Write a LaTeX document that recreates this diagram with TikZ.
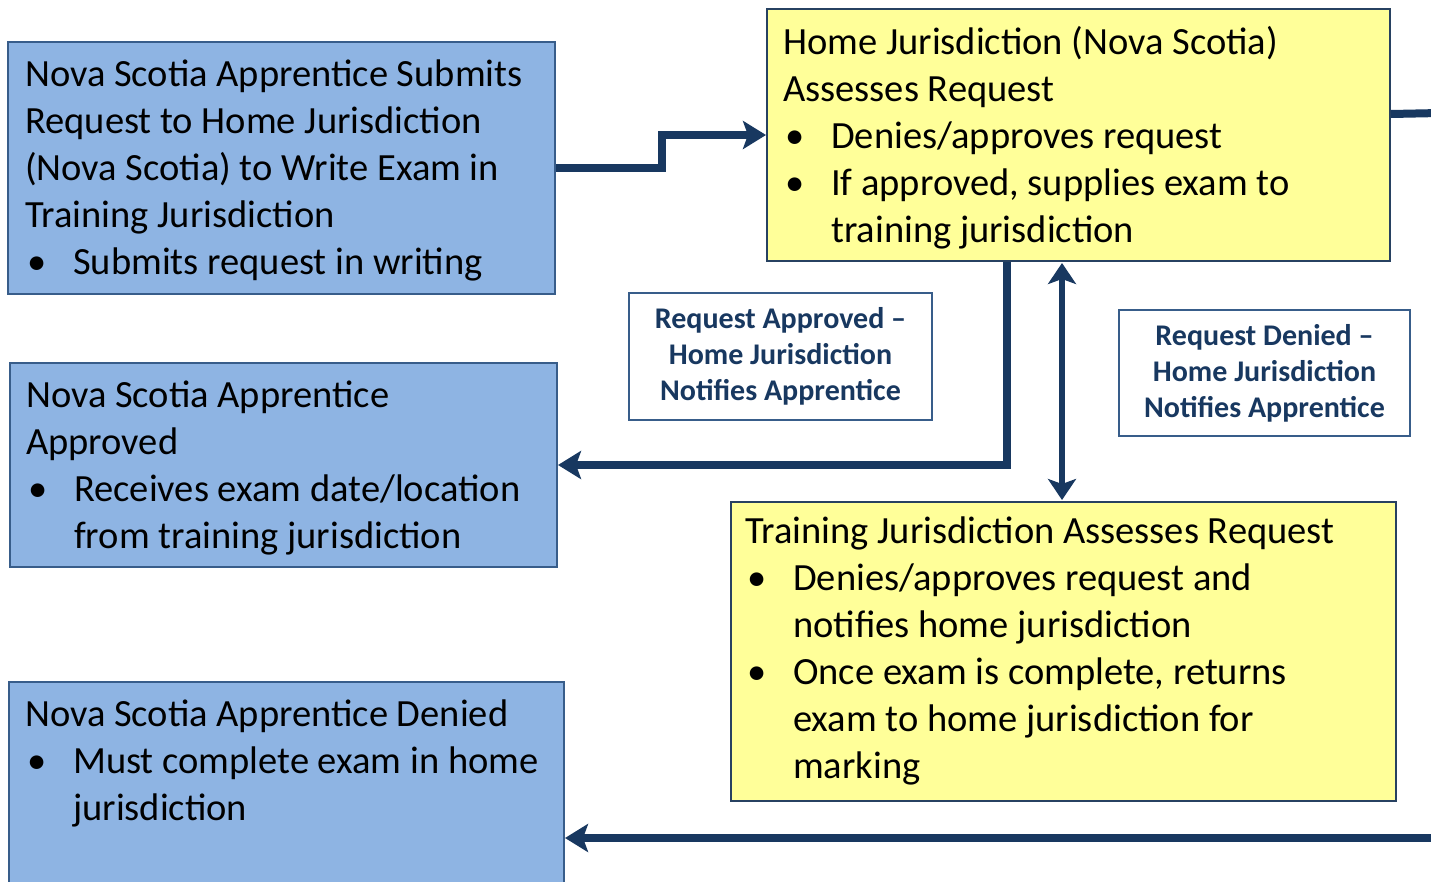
\documentclass[tikz,border=0pt]{standalone}
\usepackage{fontspec}
\setmainfont{Carlito}
\usetikzlibrary{arrows.meta}
\definecolor{navy}{RGB}{24,56,96}
\definecolor{boxblue}{RGB}{142,180,227}
\definecolor{boxyellow}{RGB}{255,255,153}
\definecolor{edge}{RGB}{56,93,138}
\newcommand\bul{\hspace*{2pt}\makebox[46pt][l]{\textbullet}}
\newcommand\ind{\hspace*{48pt}}
\tikzset{
  bluebox/.style={draw=edge, line width=2pt, fill=boxblue, anchor=north west, inner sep=0},
  yellowbox/.style={draw=edge!70!black, line width=2pt, fill=boxyellow, anchor=north west, inner sep=0},
  lblbox/.style={draw=edge, line width=2pt, fill=white, align=center, text=navy,
    font=\bfseries\fontsize{30}{36}\selectfont, inner sep=0},
  boxtext/.style={anchor=base west, align=left, inner sep=0, font=\fontsize{38.5}{47}\selectfont},
  conn/.style={draw=navy, line width=8pt, -{Stealth[length=23pt,width=28pt,inset=5pt]}},
  plainconn/.style={draw=navy, line width=8pt},
  dconn/.style={draw=navy, line width=6pt, {Stealth[length=21pt,width=28pt,inset=5pt]}-{Stealth[length=21pt,width=28pt,inset=5pt]}},
}
\begin{document}
\begin{tikzpicture}[x=1pt,y=-1pt]
\useasboundingbox (0,0) rectangle (1431,881);
\clip (0,0) rectangle (1431,881);
% boxes
\node[bluebox, minimum width=547, minimum height=252] (A) at (7,41) {};
\node[bluebox, minimum width=547, minimum height=204] (B) at (9,362) {};
\node[bluebox, minimum width=555, minimum height=230] (C) at (8,681) {};
\node[yellowbox, minimum width=623, minimum height=252] (H) at (766,8) {};
\node[yellowbox, minimum width=665, minimum height=299] (T) at (730,501) {};
% labels
\node[lblbox, minimum width=303, minimum height=127] (L1) at (780.5,356.5)
  {Request Approved --\\Home Jurisdiction\\Notifies Apprentice};
\node[lblbox, minimum width=291, minimum height=126] (L2) at (1264.5,373)
  {Request Denied --\\Home Jurisdiction\\Notifies Apprentice};
% texts (anchored at the baseline of their last line)
\node[boxtext] (At) at (25,274) {Nova Scotia Apprentice Submits\\Request to Home Jurisdiction\\(Nova Scotia) to Write Exam in\\Training Jurisdiction\\\bul Submits request in writing};
\node[boxtext] (Bt) at (26,548) {Nova Scotia Apprentice\\Approved\\\bul Receives exam date/location\\\ind from training jurisdiction};
\node[boxtext] (Ct) at (25,820) {Nova Scotia Apprentice Denied\\\bul Must complete exam in home\\\ind jurisdiction};
\node[boxtext] (Ht) at (783,242) {Home Jurisdiction (Nova Scotia)\\Assesses Request\\\bul Denies/approves request\\\bul If approved, supplies exam to\\\ind training jurisdiction};
\node[boxtext] (Tt) at (745,778) {Training Jurisdiction Assesses Request\\\bul Denies/approves request and\\\ind notifies home jurisdiction\\\bul Once exam is complete, returns\\\ind exam to home jurisdiction for\\\ind marking};
% connectors
\coordinate (rtop) at (1440,113);
\coordinate (rbot) at (1440,838);
\draw[conn] (A.east) -- ++(106,0) |- (H.west);
\draw[conn] ([xshift=241pt]H.south west) |- (B.east);
\draw[dconn] ([xshift=296pt,yshift=-1pt]H.south west) -- ([xshift=332pt,yshift=1pt]T.north west);
\draw[plainconn] ([yshift=21pt]H.east) -- (rtop);
\draw[conn] (rbot) -- (rbot -| C.east);
\end{tikzpicture}
\end{document}
